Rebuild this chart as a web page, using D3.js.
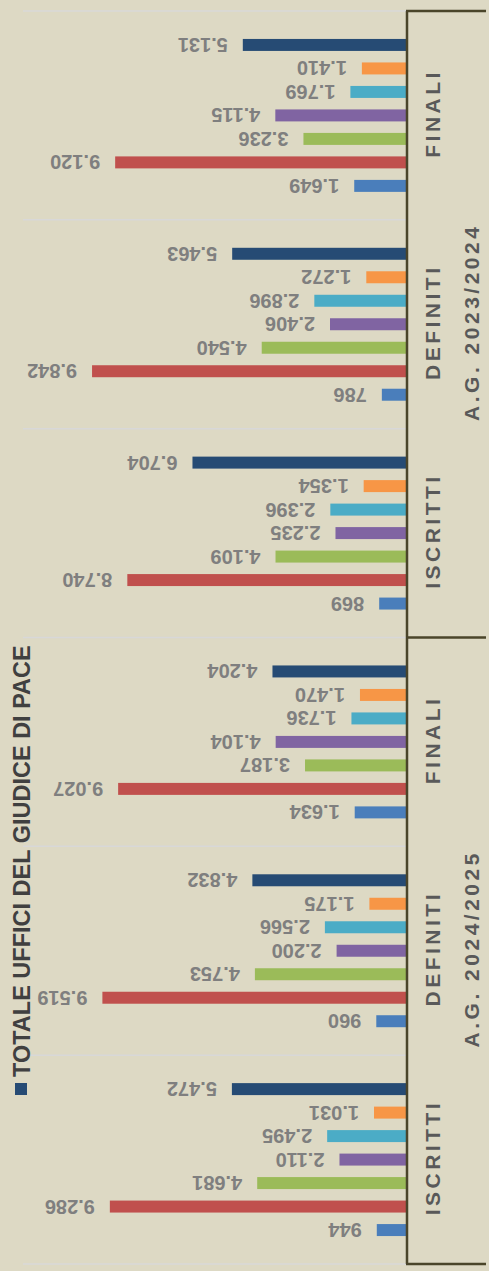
<!DOCTYPE html>
<html>
<head>
<meta charset="utf-8">
<script src="https://cdn.jsdelivr.net/npm/d3@7"></script>
<style>
  html, body { margin: 0; padding: 0; background: #ddd9c4; }
  svg { display: block; font-family: "Liberation Sans", Arial, sans-serif; }
</style>
</head>
<body>
<svg id="chart"></svg>
<script>
const width = 489;
const height = 1271;

// categories, in the original order (bottom of the picture first)
const years = ["A.G. 2024/2025", "A.G. 2023/2024"];
const phases = ["ISCRITTI", "DEFINITI", "FINALI"];
const categories = years.flatMap(y => phases.map(p => y + "|" + p));

// series values, one per category
const serie1 = [944, 960, 1634, 869, 786, 1649];
const serie2 = [9286, 9519, 9027, 8740, 9842, 9120];
const serie3 = [4681, 4753, 3187, 4109, 4540, 3236];
const serie4 = [2110, 2200, 4104, 2235, 2406, 4115];
const serie5 = [2495, 2566, 1736, 2396, 2896, 1769];
const serie6 = [1031, 1175, 1470, 1354, 1272, 1410];
const totale = [5472, 4832, 4204, 6704, 5463, 5131];

const seriesKeys = ["serie1", "serie2", "serie3", "serie4", "serie5", "serie6", "totale"];
const seriesValues = [serie1, serie2, serie3, serie4, serie5, serie6, totale];
const colors = ["#4a7ebb", "#c0504d", "#9bbb59", "#8064a2", "#4bacc6", "#f79646", "#264b74"];
const legendLabel = "TOTALE UFFICI DEL GIUDICE DI PACE";

const svg = d3.select("#chart")
    .attr("width", width)
    .attr("height", height);

svg.append("rect").attr("width", width).attr("height", height).attr("fill", "#ddd9c4");

const axisX = 407;   // category axis line
const plotLeft = 23;
const plotTop = 11, plotBottom = 1264;

// value scale grows to the left
const x = d3.scaleLinear().domain([0, 12000]).range([axisX, plotLeft]);

// categories stacked from bottom to top
const y0 = d3.scaleBand().domain(categories).range([plotBottom, plotTop]).paddingInner(0);
const y1 = d3.scaleBand().domain(seriesKeys).range([y0.bandwidth(), 0])
    .paddingInner(0.49).paddingOuter(1.19);

const fmt = d3.formatLocale({decimal: ",", thousands: ".", grouping: [3], currency: ["€", ""]}).format(",d");

// light separators between categories
const sepY = [plotBottom].concat(categories.map(c => y0(c)));
svg.append("g").selectAll("line")
    .data(sepY)
    .enter().append("line")
    .attr("x1", plotLeft).attr("x2", axisX)
    .attr("y1", d => d).attr("y2", d => d)
    .attr("stroke", "#d8d8d8")
    .attr("stroke-width", 1.5);

// bars
const rows = [];
categories.forEach((c, ci) => {
    seriesKeys.forEach((k, si) => {
        rows.push({cat: c, key: k, value: seriesValues[si][ci], color: colors[si]});
    });
});

svg.append("g").selectAll("rect")
    .data(rows)
    .enter().append("rect")
    .attr("x", d => x(d.value))
    .attr("y", d => y0(d.cat) + y1(d.key))
    .attr("width", d => axisX - x(d.value))
    .attr("height", y1.bandwidth())
    .attr("fill", d => d.color);

// value labels, turned upside down
svg.append("g").selectAll("text")
    .data(rows)
    .enter().append("text")
    .attr("transform", d => `translate(${x(d.value) - 15},${y0(d.cat) + y1(d.key) + y1.bandwidth() / 2}) rotate(180)`)
    .attr("dy", "0.35em")
    .attr("text-anchor", "start")
    .attr("font-size", 20)
    .attr("font-weight", "bold")
    .attr("fill", "#7f7f7f")
    .text(d => fmt(d.value));

// multi-level category axis
const axisColor = "#4a452a";
const axisG = svg.append("g");
axisG.append("line")
    .attr("x1", axisX).attr("x2", axisX)
    .attr("y1", plotTop).attr("y2", plotBottom)
    .attr("stroke", axisColor).attr("stroke-width", 2.5);

const yearEdges = [plotBottom, y0(categories[2]), plotTop];
axisG.selectAll("line.sep")
    .data(yearEdges)
    .enter().append("line")
    .attr("class", "sep")
    .attr("x1", axisX - 1).attr("x2", 486)
    .attr("y1", d => d).attr("y2", d => d)
    .attr("stroke", axisColor).attr("stroke-width", 2.5);

axisG.selectAll("text.phase")
    .data(categories)
    .enter().append("text")
    .attr("class", "phase")
    .attr("transform", c => `translate(440,${y0(c) + y0.bandwidth() / 2 - 2}) rotate(-90)`)
    .attr("text-anchor", "middle")
    .attr("font-size", 21)
    .attr("font-weight", "bold")
    .attr("letter-spacing", 3.5)
    .attr("fill", "#595959")
    .text(c => c.split("|")[1]);

axisG.selectAll("text.year")
    .data(years)
    .enter().append("text")
    .attr("class", "year")
    .attr("transform", (yr, i) => {
        const cs = categories.slice(i * 3, i * 3 + 3);
        const mid = (y0(cs[0]) + y0.bandwidth() + y0(cs[2])) / 2;
        return `translate(479,${mid - 2}) rotate(-90)`;
    })
    .attr("text-anchor", "middle")
    .attr("font-size", 21)
    .attr("font-weight", "bold")
    .attr("letter-spacing", 3.5)
    .attr("fill", "#595959")
    .text(yr => yr);

// legend (only the total series)
const legend = svg.append("g");
legend.append("rect")
    .attr("x", 15).attr("y", 1083)
    .attr("width", 12).attr("height", 12)
    .attr("fill", colors[6]);
legend.append("text")
    .attr("transform", "translate(30,1077) rotate(-90)")
    .attr("text-anchor", "start")
    .attr("font-size", 23.5)
    .attr("font-weight", "bold")
    .attr("fill", "#404040")
    .text(legendLabel);
</script>
</body>
</html>
